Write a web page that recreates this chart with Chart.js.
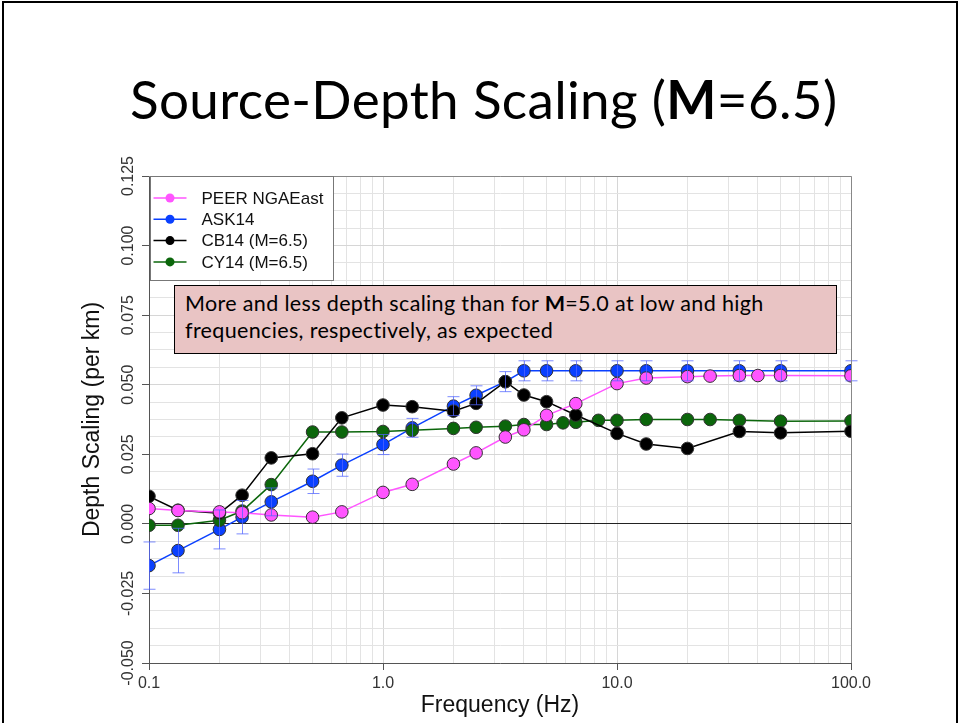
<!DOCTYPE html>
<html>
<head>
<meta charset="utf-8">
<title>Source-Depth Scaling</title>
<script src="https://cdn.jsdelivr.net/npm/chart.js@4.4.1/dist/chart.umd.min.js"></script>
<style>
  html, body { margin: 0; padding: 0; background: #fff; }
  #slide { position: relative; width: 960px; height: 723px; overflow: hidden; }
  #frame { position: absolute; left: 2px; top: 1px; width: 952px; height: 800px; border: 2px solid #000; }
  #depth { position: absolute; left: 0; top: 0; }
  #title { position: absolute; left: 130px; top: 67px; white-space: nowrap; letter-spacing: 0.35px;
           font-family: Lato, "Open Sans", sans-serif; font-size: 53px; color: #000; }
  #note { position: absolute; left: 174px; top: 285px; width: 663px; height: 69px; box-sizing: border-box;
          background: #e9c4c4; border: 1px solid #000; padding: 4px 0 0 10px; letter-spacing: 0.35px;
          font-family: Lato, "Open Sans", sans-serif; font-size: 21.5px; line-height: 27px; color: #000; }
</style>
</head>
<body>
<div id="slide">
  <div id="frame"></div>
  <canvas id="depth" width="960" height="723"></canvas>
  <div id="title">Source-Depth Scaling (<b>M</b>=6.5)</div>
  <div id="note">More and less depth scaling than for <b>M</b>=5.0 at low and high<br>frequencies, respectively, as expected</div>
</div>
<script>
// frequencies (Hz) and depth scaling (per km) for each model
const peerFreq = [0.1, 0.133, 0.2, 0.25, 0.333, 0.5, 0.667, 1, 1.333, 2, 2.5, 3.333, 4, 5, 6.667, 10, 13.33, 20, 25, 33.33, 40, 50, 100];
const peerVals = [0.0055, 0.0048, 0.0043, 0.0040, 0.0032, 0.0024, 0.0043, 0.0113, 0.0142, 0.0215, 0.0255, 0.0312, 0.0338, 0.0390, 0.0432, 0.0504, 0.0524, 0.0529, 0.0531, 0.0533, 0.0533, 0.0533, 0.0532];

const askFreq = [0.1, 0.133, 0.2, 0.25, 0.333, 0.5, 0.667, 1, 1.333, 2, 2.5, 3.333, 4, 5, 6.667, 10, 13.33, 20, 33.33, 50, 100];
const askVals = [-0.0150, -0.0096, -0.0020, 0.0024, 0.0079, 0.0153, 0.0211, 0.0285, 0.0345, 0.0423, 0.0462, 0.0511, 0.0550, 0.0550, 0.0550, 0.0550, 0.0550, 0.0550, 0.0550, 0.0550, 0.0550];
const askErr  = [0.0085, 0.0080, 0.0070, 0.0060, 0.0050, 0.0044, 0.0040, 0.0036, 0.0034, 0.0034, 0.0034, 0.0036, 0.0036, 0.0036, 0.0036, 0.0036, 0.0036, 0.0036, 0.0036, 0.0036, 0.0036];

const cbFreq = [0.1, 0.133, 0.2, 0.25, 0.333, 0.5, 0.667, 1, 1.333, 2, 2.5, 3.333, 4, 5, 6.667, 10, 13.33, 20, 33.33, 50, 100];
const cbVals = [0.0099, 0.0049, 0.0038, 0.0103, 0.0237, 0.0252, 0.0381, 0.0427, 0.0421, 0.0405, 0.0433, 0.0511, 0.0463, 0.0439, 0.0391, 0.0325, 0.0287, 0.0271, 0.0332, 0.0327, 0.0333];

const cyFreq = [0.1, 0.133, 0.2, 0.25, 0.333, 0.5, 0.667, 1, 1.333, 2, 2.5, 3.333, 4, 5, 5.88, 6.667, 8.33, 10, 13.33, 20, 25, 33.33, 50, 100];
const cyVals = [-0.0005, -0.0005, 0.0013, 0.0046, 0.0141, 0.0330, 0.0330, 0.0332, 0.0336, 0.0343, 0.0347, 0.0351, 0.0357, 0.0357, 0.0363, 0.0365, 0.0372, 0.0372, 0.0375, 0.0375, 0.0375, 0.0372, 0.0369, 0.0370];

const seriesNames = ['PEER NGAEast', 'ASK14', 'CB14 (M=6.5)', 'CY14 (M=6.5)'];

// axis ticks
const xTickValues = [0.1, 1, 10, 100];
const xTickLabels = ['0.1', '1.0', '10.0', '100.0'];
const yTickValues = [-0.05, -0.025, 0, 0.025, 0.05, 0.075, 0.1, 0.125];
const yTickLabels = ['-0.050', '-0.025', '0.000', '0.025', '0.050', '0.075', '0.100', '0.125'];

// grid: every integer multiple within each decade, and quarter steps on y
const xGrid = [];
for (let d = 0.1; d < 100; d *= 10) {
  for (let m = 1; m < 10; m++) xGrid.push(+(d * m).toPrecision(3));
}
xGrid.push(100);
const yGrid = [];
for (let i = 0; i <= 28; i++) yGrid.push(+(-0.05 + i * 0.00625).toFixed(5));

const pts = (fs, vs) => fs.map((f, i) => ({ x: f, y: vs[i] }));
const near = (a, b) => Math.abs(a - b) < 1e-9 * Math.max(1, Math.abs(b));
const labelFor = (vals, labels, v) => {
  const i = vals.findIndex(t => near(t, v));
  return i < 0 ? '' : labels[i];
};

const tickFont = { family: 'Liberation Sans', size: 16 };
const titleFont = { family: 'Liberation Sans', size: 23 };

// ASK14 standard-error bars, drawn over the markers
const errorBars = {
  id: 'errorBars',
  afterDatasetsDraw(chart) {
    const { ctx, scales: { x, y } } = chart;
    ctx.save();
    ctx.strokeStyle = 'rgba(80,100,255,0.75)';
    ctx.lineWidth = 1;
    askFreq.forEach((f, i) => {
      const px = Math.round(x.getPixelForValue(f)) + 0.5;
      const hi = y.getPixelForValue(askVals[i] + askErr[i]);
      const lo = y.getPixelForValue(askVals[i] - askErr[i]);
      ctx.beginPath();
      ctx.moveTo(px, hi); ctx.lineTo(px, lo);
      ctx.moveTo(px - 6, hi); ctx.lineTo(px + 6, hi);
      ctx.moveTo(px - 6, lo); ctx.lineTo(px + 6, lo);
      ctx.stroke();
    });
    ctx.restore();
  }
};

// top/right frame of the plot and the boxed legend in its corner
const frameAndLegend = {
  id: 'frameAndLegend',
  afterDraw(chart) {
    const { ctx, chartArea: a } = chart;
    ctx.save();
    ctx.strokeStyle = '#888';
    ctx.lineWidth = 1;
    ctx.beginPath();
    ctx.moveTo(a.left, a.top + 0.5); ctx.lineTo(a.right + 0.5, a.top + 0.5); ctx.lineTo(a.right + 0.5, a.bottom);
    ctx.stroke();

    const bx = a.left + 1.5, by = a.top + 0.5, bw = 183, bh = 104;
    ctx.fillStyle = '#fff';
    ctx.fillRect(bx, by, bw, bh);
    ctx.strokeStyle = '#777';
    ctx.strokeRect(bx, by, bw, bh);

    ctx.font = '17px "Liberation Sans"';
    ctx.textBaseline = 'middle';
    chart.data.datasets.forEach((ds, i) => {
      const ly = by + 21.5 + i * 21.3;
      ctx.strokeStyle = ds.borderColor;
      ctx.lineWidth = 1.5;
      ctx.beginPath();
      ctx.moveTo(bx + 3, ly); ctx.lineTo(bx + 36, ly);
      ctx.stroke();
      ctx.fillStyle = ds.borderColor;
      ctx.beginPath();
      ctx.arc(bx + 19.5, ly, 4.5, 0, Math.PI * 2);
      ctx.fill();
      ctx.fillStyle = '#111';
      ctx.fillText(ds.label, bx + 51, ly + 1);
    });
    ctx.restore();
  }
};

const line = (label, data, color, order) => ({
  label, data, order,
  borderColor: color,
  backgroundColor: color,
  borderWidth: 1.5,
  pointRadius: 6.3,
  pointBorderWidth: 1,
  pointBorderColor: '#333',
  pointBackgroundColor: color,
  tension: 0
});

new Chart(document.getElementById('depth'), {
  type: 'line',
  data: {
    datasets: [
      line(seriesNames[0], pts(peerFreq, peerVals), '#ff55ff', 0),
      line(seriesNames[1], pts(askFreq, askVals), '#0a40ff', 3),
      line(seriesNames[2], pts(cbFreq, cbVals), '#000000', 1),
      line(seriesNames[3], pts(cyFreq, cyVals), '#0b660b', 2)
    ]
  },
  options: {
    responsive: false,
    animation: false,
    layout: { padding: { left: 0, right: 109, top: 176, bottom: 0 } },
    plugins: { legend: { display: false }, tooltip: { enabled: false } },
    scales: {
      x: {
        type: 'logarithmic',
        min: 0.1,
        max: 100,
        afterBuildTicks: s => { s.ticks = xGrid.map(v => ({ value: v })); },
        afterFit: s => { s.height = 60; },
        ticks: {
          autoSkip: false, maxRotation: 0, minRotation: 0, padding: 4,
          font: tickFont, color: '#333',
          callback: v => labelFor(xTickValues, xTickLabels, v)
        },
        grid: {
          color: c => xTickValues.some(t => near(t, c.tick.value)) ? '#d6d6d6' : '#e3e3e3',
          tickColor: c => xTickValues.some(t => near(t, c.tick.value)) ? '#555' : 'rgba(0,0,0,0)',
          tickLength: 7
        },
        border: { color: '#555', width: 1 },
        title: { display: true, text: 'Frequency (Hz)', font: titleFont, color: '#111', padding: { top: 0, bottom: 4 } }
      },
      y: {
        min: -0.05,
        max: 0.125,
        afterBuildTicks: s => { s.ticks = yGrid.map(v => ({ value: v })); },
        afterFit: s => { s.width = 149; },
        ticks: {
          autoSkip: false, minRotation: 90, maxRotation: 90, crossAlign: 'center', padding: -9,
          font: tickFont, color: '#333',
          callback: v => labelFor(yTickValues, yTickLabels, v)
        },
        grid: {
          color: c => near(c.tick.value, 0) ? '#222' : (yTickValues.some(t => near(t, c.tick.value)) ? '#d6d6d6' : '#e3e3e3'),
          tickColor: c => yTickValues.some(t => near(t, c.tick.value)) ? '#555' : 'rgba(0,0,0,0)',
          tickLength: 7
        },
        border: { color: '#555', width: 1 },
        title: { display: true, text: 'Depth Scaling (per km)', font: titleFont, color: '#111', padding: { top: 79, bottom: 0 } }
      }
    }
  },
  plugins: [errorBars, frameAndLegend]
});
</script>
</body>
</html>
